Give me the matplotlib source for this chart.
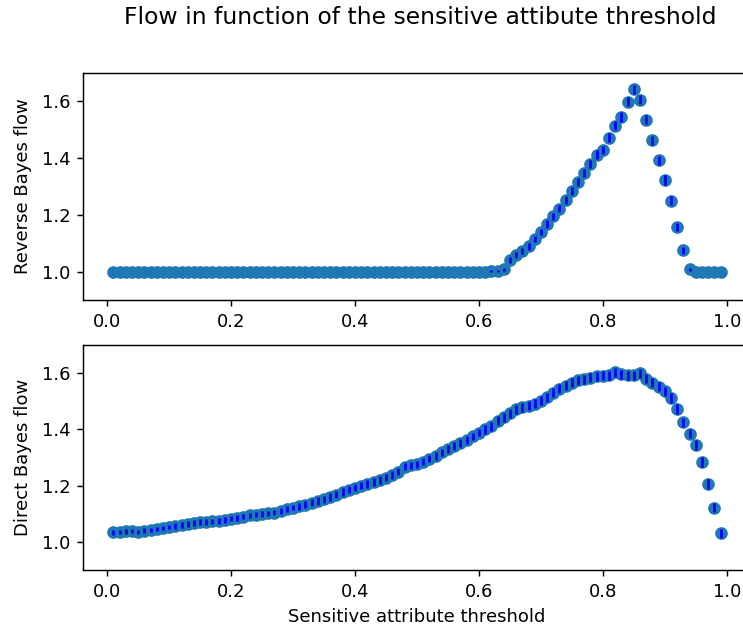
import numpy as np
import matplotlib
matplotlib.use("Agg")
import matplotlib.pyplot as plt

# Sensitive attribute thresholds 0.01 ... 0.99
thresholds = np.arange(1, 100) / 100

# Reverse Bayes flow (mean) and its spread
reverse_flow = [1.0] * 61 + [
    1.002, 1.003, 1.008, 1.040, 1.058, 1.072, 1.090, 1.115, 1.140, 1.168,
    1.195, 1.222, 1.252, 1.285, 1.315, 1.348, 1.380, 1.412, 1.428, 1.472,
    1.515, 1.545, 1.598, 1.642, 1.606, 1.535, 1.463, 1.392, 1.323, 1.250,
    1.157, 1.075, 1.008, 1.0, 1.0, 1.0, 1.0, 1.0,
]
reverse_err = [0.0] * 61 + [
    0.004, 0.004, 0.006, 0.010, 0.011, 0.011, 0.012, 0.012, 0.012, 0.013,
    0.013, 0.013, 0.014, 0.014, 0.014, 0.014, 0.015, 0.015, 0.015, 0.015,
    0.016, 0.016, 0.016, 0.016, 0.016, 0.016, 0.016, 0.016, 0.016, 0.016,
    0.015, 0.013, 0.006, 0.0, 0.0, 0.0, 0.0, 0.0,
]

# Direct Bayes flow (mean) and its spread
direct_flow = [
    1.034, 1.035, 1.037, 1.038, 1.036, 1.040, 1.043, 1.046, 1.049, 1.053,
    1.056, 1.060, 1.063, 1.068, 1.070, 1.071, 1.073, 1.074, 1.078, 1.083,
    1.086, 1.090, 1.094, 1.097, 1.100, 1.101, 1.104, 1.110, 1.116, 1.122,
    1.127, 1.133, 1.140, 1.146, 1.152, 1.160, 1.168, 1.178, 1.186, 1.193,
    1.200, 1.206, 1.213, 1.220, 1.228, 1.238, 1.250, 1.268, 1.272, 1.276,
    1.285, 1.296, 1.306, 1.318, 1.330, 1.341, 1.352, 1.362, 1.375, 1.388,
    1.400, 1.412, 1.430, 1.444, 1.458, 1.472, 1.478, 1.485, 1.492, 1.502,
    1.515, 1.530, 1.545, 1.556, 1.566, 1.574, 1.578, 1.584, 1.589, 1.590,
    1.593, 1.604, 1.596, 1.592, 1.592, 1.600, 1.580, 1.566, 1.552, 1.535,
    1.512, 1.472, 1.425, 1.385, 1.345, 1.285, 1.205, 1.122, 1.030,
]
direct_err = ([0.008] * 10 + [0.010] * 20 + [0.013] * 30
              + [0.016] * 30 + [0.017] * 9)

DPI = 130
fig = plt.figure(figsize=(743 / DPI, 630 / DPI), dpi=DPI)
ax_top = fig.add_axes([0.1117, 0.5238, 0.899, 0.3603])
ax_bot = fig.add_axes([0.1117, 0.0952, 0.899, 0.3571])

panels = [
    (ax_top, reverse_flow, reverse_err, "Reverse Bayes flow"),
    (ax_bot, direct_flow, direct_err, "Direct Bayes flow"),
]
for ax, flow, err, label in panels:
    ax.scatter(thresholds, flow, color="C0")
    ax.errorbar(thresholds, flow, yerr=err, fmt="none", ecolor="b")
    ax.set_ylim(0.9, 1.7)
    ax.set_yticks([1.0, 1.2, 1.4, 1.6])
    ax.set_ylabel(label, labelpad=5.5)

ax_bot.set_xlabel("Sensitive attribute threshold")
fig.suptitle("Flow in function of the sensitive attibute threshold",
             x=420 / 743, y=1 - 18 / 630, va="center", fontsize=13)

fig.savefig("out.png", dpi=DPI)
